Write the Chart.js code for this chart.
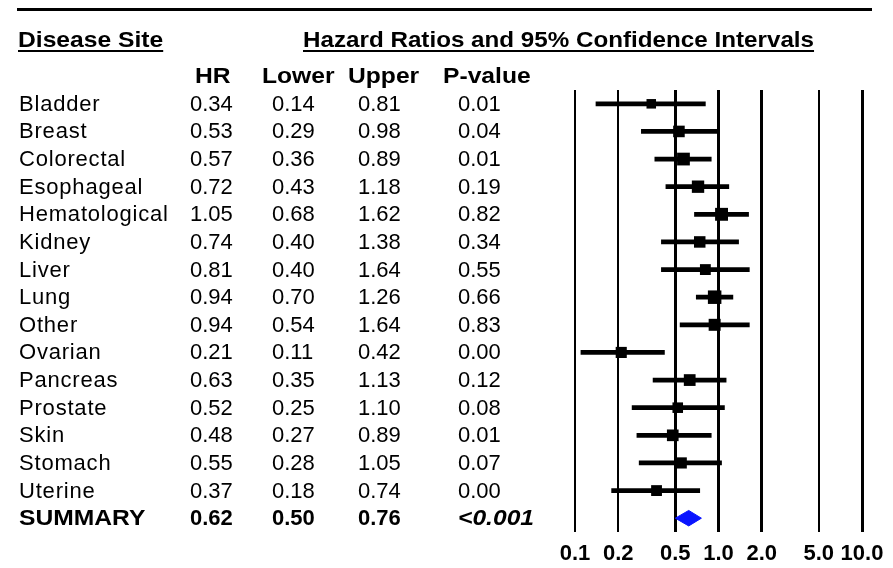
<!DOCTYPE html>
<html>
<head>
<meta charset="utf-8">
<script src="https://cdn.jsdelivr.net/npm/chart.js@4/dist/chart.umd.min.js"></script>
<style>
  html, body { margin: 0; padding: 0; background: #fff; }
  #wrap { position: relative; width: 893px; height: 568px; overflow: hidden; font-family: "Liberation Sans", Arial, sans-serif; color: #000; }
  #c { position: absolute; left: 0; top: 0; }
  .t { position: absolute; font-size: 22px; line-height: 22px; white-space: nowrap; transform-origin: 0 50%; }
  .n { letter-spacing: 0.8px; }
  .b { font-weight: bold; }
  .s { transform: scaleX(1.12); }
  .s2 { transform: scaleX(1.10); }
  .u { text-decoration: underline; text-decoration-thickness: 2px; text-underline-offset: 3px; }
  .i { font-style: italic; }
  #rule { position: absolute; left: 17px; top: 8px; width: 855px; height: 3px; background: #000; }
</style>
</head>
<body>
<div id="wrap">
  <canvas id="c" width="893" height="568"></canvas>
  <div id="rule"></div>
  <div id="text"></div>
</div>
<script>
// ---- data ----
const sites = ['Bladder','Breast','Colorectal','Esophageal','Hematological','Kidney','Liver','Lung','Other','Ovarian','Pancreas','Prostate','Skin','Stomach','Uterine'];
const hr    = [0.34,0.53,0.57,0.72,1.05,0.74,0.81,0.94,0.94,0.21,0.63,0.52,0.48,0.55,0.37];
const lower = [0.14,0.29,0.36,0.43,0.68,0.40,0.40,0.70,0.54,0.11,0.35,0.25,0.27,0.28,0.18];
const upper = [0.81,0.98,0.89,1.18,1.62,1.38,1.64,1.26,1.64,0.42,1.13,1.10,0.89,1.05,0.74];
const pvals = ['0.01','0.04','0.01','0.19','0.82','0.34','0.55','0.66','0.83','0.00','0.12','0.08','0.01','0.07','0.00'];
const summaryLabel = 'SUMMARY';
const summaryHR = 0.62, summaryLower = 0.50, summaryUpper = 0.76, summaryP = '<0.001';
const xTicks = [0.1, 0.2, 0.5, 1, 2, 5, 10];
const xTickLabels = ['0.1','0.2','0.5','1.0','2.0','5.0','10.0'];
const columnHeaders = ['HR','Lower','Upper','P-value'];
const titleLeft = 'Disease Site';
const titleRight = 'Hazard Ratios and 95% Confidence Intervals';

const fmt = v => v.toFixed(2);
const nRows = sites.length + 1; // + summary
const summaryRow = sites.length;

// square side derived from CI width (inverse precision)
function boxSide(i) {
  const w = Math.log(upper[i] / lower[i]);
  return Math.max(8, Math.min(13.5, 16.2 - 3.8 * w));
}

const ciData = sites.map((s, i) => ({ x: [lower[i], upper[i]], y: i }));
const hrData = sites.map((s, i) => ({ x: hr[i], y: i }));
const dh = 0.28;
const diamond = [
  { x: summaryLower, y: summaryRow },
  { x: summaryHR, y: summaryRow - dh },
  { x: summaryUpper, y: summaryRow },
  { x: summaryHR, y: summaryRow + dh },
  { x: summaryLower, y: summaryRow }
];

const gridWidths = [2, 2, 3, 3, 3, 2, 3];

const chart = new Chart(document.getElementById('c'), {
  type: 'bar',
  data: {
    datasets: [
      {
        type: 'bar', indexAxis: 'y', data: ciData,
        backgroundColor: '#000', borderWidth: 0, barThickness: 4,
        xAxisID: 'x', yAxisID: 'y'
      },
      {
        type: 'scatter', data: hrData,
        pointStyle: 'rect', backgroundColor: '#000', borderWidth: 0,
        pointRadius: ctx => boxSide(ctx.dataIndex) / Math.SQRT2,
        xAxisID: 'x', yAxisID: 'y'
      },
      {
        type: 'scatter', data: diamond, showLine: true, fill: 'shape',
        borderColor: '#0a14ff', backgroundColor: '#0a14ff', borderWidth: 1,
        pointRadius: 0, tension: 0,
        xAxisID: 'x', yAxisID: 'y'
      }
    ]
  },
  options: {
    responsive: false,
    animation: false,
    events: [],
    layout: { padding: { left: 575, right: 31, top: 90, bottom: 2 } },
    plugins: { legend: { display: false }, tooltip: { enabled: false } },
    scales: {
      x: {
        type: 'logarithmic', position: 'bottom', min: 0.1, max: 10, offset: false,
        afterBuildTicks: sc => { sc.ticks = xTicks.map(v => ({ value: v })); },
        afterFit: sc => { sc.height = 34; },
        ticks: {
          autoSkip: false, maxRotation: 0, minRotation: 0, padding: 9, color: '#000',
          font: { family: '"Liberation Sans", Arial, sans-serif', size: 22, weight: 'bold' },
          callback: (v, i) => xTickLabels[i]
        },
        grid: { color: '#000', lineWidth: ctx => gridWidths[ctx.index] ?? 2, drawTicks: false, offset: false },
        border: { display: false }
      },
      y: {
        type: 'linear', display: false, reverse: true, offset: false,
        min: -0.5, max: nRows - 0.5
      }
    }
  }
});

// ---- table text, rows aligned to the chart's y scale ----
const ys = chart.scales.y;
const textEl = document.getElementById('text');
function addText(str, left, cy, cls) {
  const d = document.createElement('div');
  d.className = 't ' + (cls || '');
  d.textContent = str;
  d.style.left = left + 'px';
  d.style.top = (cy - 11) + 'px';
  textEl.appendChild(d);
}
const colLeft = [190, 272, 358, 458];
const headLeft = [195, 262, 348, 443];
addText(titleLeft, 18, 40, 'b u s');
addText(titleRight, 303, 40, 'b u s2');
const headY = ys.getPixelForValue(-1);
columnHeaders.forEach((h, k) => addText(h, headLeft[k], headY, 'b s'));
sites.forEach((s, i) => {
  const y = ys.getPixelForValue(i);
  addText(s, 19, y, 'n');
  addText(fmt(hr[i]), colLeft[0], y);
  addText(fmt(lower[i]), colLeft[1], y);
  addText(fmt(upper[i]), colLeft[2], y);
  addText(pvals[i], colLeft[3], y);
});
const sy = ys.getPixelForValue(summaryRow);
addText(summaryLabel, 19, sy, 'b s');
addText(fmt(summaryHR), colLeft[0], sy, 'b');
addText(fmt(summaryLower), colLeft[1], sy, 'b');
addText(fmt(summaryUpper), colLeft[2], sy, 'b');
addText(summaryP, colLeft[3], sy, 'b i s');
</script>
</body>
</html>
